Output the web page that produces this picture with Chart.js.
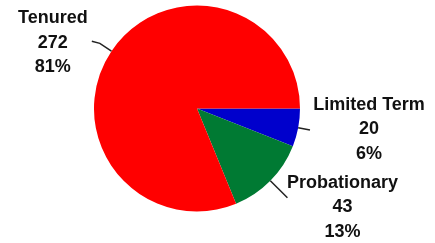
<!DOCTYPE html>
<html>
<head>
<meta charset="utf-8">
<script src="https://cdn.jsdelivr.net/npm/chart.js@4/dist/chart.umd.min.js"></script>
<style>
  html, body { margin: 0; padding: 0; background: #fff; }
  #wrap { width: 435px; height: 243px; }
</style>
</head>
<body>
<div id="wrap"><canvas id="pieChart"></canvas></div>
<script>
// Datos del gráfico
const categories = ['Limited Term', 'Probationary', 'Tenured'];
const counts = [20, 43, 272];
const sliceColors = ['#0000cc', '#007a33', '#ff0000'];

// Estilo de las etiquetas (líneas guía y desplazamiento del texto)
const leaderRadial = [12, 24, 14];
const leaderFlat = [0, 0, -8];
const labelOffsetX = [59, 55, -39];
const labelOffsetY = [-20, -10, -18];
const lineGap = 24.5;

const total = counts.reduce((a, b) => a + b, 0);

// Plugin para dibujar etiquetas con líneas guía
const leaderLabels = {
    id: 'leaderLabels',
    afterDatasetsDraw(chart) {
        const ctx = chart.ctx;
        const meta = chart.getDatasetMeta(0);
        ctx.save();
        ctx.font = 'bold 18px "Liberation Sans", Arial, sans-serif';
        ctx.fillStyle = '#111';
        ctx.strokeStyle = '#222';
        ctx.lineWidth = 1.5;
        ctx.textAlign = 'center';
        ctx.textBaseline = 'alphabetic';
        meta.data.forEach((arc, i) => {
            const p = arc.getProps(['x', 'y', 'startAngle', 'endAngle', 'outerRadius'], true);
            const mid = (p.startAngle + p.endAngle) / 2;
            const x0 = p.x + Math.cos(mid) * p.outerRadius;
            const y0 = p.y + Math.sin(mid) * p.outerRadius;
            const x1 = p.x + Math.cos(mid) * (p.outerRadius + leaderRadial[i]);
            const y1 = p.y + Math.sin(mid) * (p.outerRadius + leaderRadial[i]);
            const x2 = x1 + leaderFlat[i];
            const y2 = y1 - (leaderFlat[i] !== 0 ? 2 : 0);
            ctx.beginPath();
            ctx.moveTo(x0, y0);
            ctx.lineTo(x1, y1);
            ctx.lineTo(x2, y2);
            ctx.stroke();

            const tx = x2 + labelOffsetX[i];
            const ty = y2 + labelOffsetY[i];
            const pct = Math.round(counts[i] / total * 100) + '%';
            [categories[i], String(counts[i]), pct].forEach((line, k) => {
                ctx.fillText(line, tx, ty + k * lineGap);
            });
        });
        ctx.restore();
    }
};

new Chart(document.getElementById('pieChart').getContext('2d'), {
    type: 'pie',
    data: {
        labels: categories,
        datasets: [{
            data: counts,
            backgroundColor: sliceColors,
            borderWidth: 0
        }]
    },
    options: {
        responsive: true,
        maintainAspectRatio: false,
        animation: false,
        rotation: 90,
        layout: {
            padding: { top: 5, bottom: 31, left: 94, right: 135 }
        },
        plugins: {
            legend: { display: false },
            tooltip: { enabled: false }
        }
    },
    plugins: [leaderLabels]
});
</script>
</body>
</html>
